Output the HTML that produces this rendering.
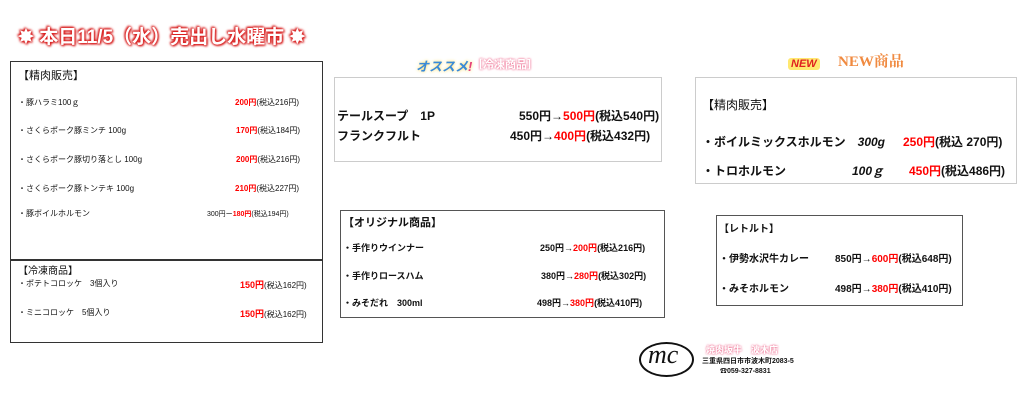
<!DOCTYPE html>
<html><head><meta charset="utf-8"><style>
body{margin:0;width:1024px;height:403px;background:#fff;position:relative;overflow:hidden;font-family:"Liberation Sans","Noto Sans CJK JP",sans-serif;color:#111}
.a{position:absolute;white-space:nowrap}
.box{position:absolute;box-sizing:border-box}
.r{color:#f00}
.b{font-weight:bold}
</style></head><body>
<div class="a b" style="left:18px;top:22px;font-size:19px;color:#fff;text-shadow:0 0 2px #d22,0 0 3px #d22,1px 1px 2px #c00,-1px -1px 2px #c00;letter-spacing:0px">✸ 本日11/5（水）売出し水曜市 ✸</div>

<div class="box" style="left:10px;top:61px;width:313px;height:282px;border:1.5px solid #333"></div>
<div class="box" style="left:10px;top:259px;width:313px;height:1.5px;background:#333"></div>
<div class="a" style="left:18px;top:67px;font-size:11px">【精肉販売】</div>
<div class="a" style="left:18px;top:97px;font-size:8px">・豚ハラミ100ｇ</div>
<div class="a" style="left:235px;top:97px;font-size:8px"><span class="r b">200円</span>(税込216円)</div>
<div class="a" style="left:18px;top:125px;font-size:8px">・さくらポーク豚ミンチ 100g</div>
<div class="a" style="left:236px;top:125px;font-size:8px"><span class="r b">170円</span>(税込184円)</div>
<div class="a" style="left:18px;top:154px;font-size:8px">・さくらポーク豚切り落とし 100g</div>
<div class="a" style="left:236px;top:154px;font-size:8px"><span class="r b">200円</span>(税込216円)</div>
<div class="a" style="left:18px;top:183px;font-size:8px">・さくらポーク豚トンテキ 100g</div>
<div class="a" style="left:235px;top:183px;font-size:8px"><span class="r b">210円</span>(税込227円)</div>
<div class="a" style="left:18px;top:208px;font-size:8px">・豚ボイルホルモン</div>
<div class="a" style="left:207px;top:209px;font-size:7px">300円ー<span class="r b">180円</span>(税込194円)</div>
<div class="a" style="left:18px;top:262px;font-size:10px">【冷凍商品】</div>
<div class="a" style="left:18px;top:278px;font-size:8px">・ポテトコロッケ　3個入り</div>
<div class="a" style="left:240px;top:278px;font-size:8px"><span class="r b" style="font-size:9px">150円</span>(税込162円)</div>
<div class="a" style="left:18px;top:307px;font-size:8px">・ミニコロッケ　5個入り</div>
<div class="a" style="left:240px;top:307px;font-size:8px"><span class="r b" style="font-size:9px">150円</span>(税込162円)</div>

<div class="a b" style="left:416px;top:56px;font-size:13px;color:#3a8ad8;font-style:italic;text-shadow:0 0 3px #ffd84a">オススメ<span style="color:#e5407a">!</span></div>
<div class="a b" style="left:472px;top:56px;font-size:11px;color:#fff;text-shadow:0 0 2px #f07a9a,0 0 2px #f07a9a">［冷凍商品］</div>
<div class="box" style="left:334px;top:77px;width:328px;height:85px;border:1px solid #ccc"></div>
<div class="a b" style="left:337px;top:107px;font-size:12px">テールスープ　1P</div>
<div class="a b" style="left:519px;top:107px;font-size:12px">550円→<span class="r">500円</span>(税込540円)</div>
<div class="a b" style="left:337px;top:127px;font-size:12px">フランクフルト</div>
<div class="a b" style="left:510px;top:127px;font-size:12px">450円→<span class="r">400円</span>(税込432円)</div>

<div class="a b" style="left:788px;top:58px;font-size:11px;color:#e02020;font-style:italic;background:#ffe870;padding:0 3px;border-radius:3px">NEW</div>
<div class="a b" style="left:838px;top:50px;font-size:15px;color:#f08a40;font-family:'Liberation Serif','Noto Serif CJK SC',serif">NEW商品</div>
<div class="box" style="left:695px;top:77px;width:322px;height:107px;border:1px solid #ccc"></div>
<div class="a" style="left:702px;top:96px;font-size:12px">【精肉販売】</div>
<div class="a b" style="left:702px;top:133px;font-size:12px">・ボイルミックスホルモン　<i>300g</i></div>
<div class="a b" style="left:903px;top:133px;font-size:12px"><span class="r">250円</span>(税込 270円)</div>
<div class="a b" style="left:702px;top:162px;font-size:12px">・トロホルモン</div>
<div class="a b" style="left:852px;top:162px;font-size:12px"><i>100ｇ</i></div>
<div class="a b" style="left:909px;top:162px;font-size:12px"><span class="r">450円</span>(税込486円)</div>

<div class="box" style="left:340px;top:210px;width:325px;height:108px;border:1.5px solid #555"></div>
<div class="a b" style="left:343px;top:214px;font-size:11px">【オリジナル商品】</div>
<div class="a b" style="left:343px;top:241px;font-size:9px">・手作りウインナー</div>
<div class="a b" style="left:540px;top:241px;font-size:9px">250円→<span class="r">200円</span>(税込216円)</div>
<div class="a b" style="left:343px;top:269px;font-size:9px">・手作りロースハム</div>
<div class="a b" style="left:541px;top:269px;font-size:9px">380円→<span class="r">280円</span>(税込302円)</div>
<div class="a b" style="left:343px;top:296px;font-size:9px">・みそだれ　300ml</div>
<div class="a b" style="left:537px;top:296px;font-size:9px">498円→<span class="r">380円</span>(税込410円)</div>

<div class="box" style="left:716px;top:215px;width:247px;height:91px;border:1.5px solid #555"></div>
<div class="a b" style="left:719px;top:220px;font-size:10px">【レトルト】</div>
<div class="a b" style="left:719px;top:250px;font-size:10px">・伊勢水沢牛カレー</div>
<div class="a b" style="left:835px;top:250px;font-size:10px">850円→<span class="r">600円</span>(税込648円)</div>
<div class="a b" style="left:719px;top:280px;font-size:10px">・みそホルモン</div>
<div class="a b" style="left:835px;top:280px;font-size:10px">498円→<span class="r">380円</span>(税込410円)</div>

<div class="box" style="left:639px;top:342px;width:55px;height:35px;border:2px solid #111;border-radius:50%"></div>
<div class="a" style="left:648px;top:340px;font-size:26px;font-style:italic;font-family:'Liberation Serif',serif">mc</div>
<div class="a b" style="left:706px;top:343px;font-size:9px;color:#fff;text-shadow:0 0 2px #f07a9a,0 0 2px #f07a9a">焼肉坂牛　波木店</div>
<div class="a b" style="left:702px;top:356px;font-size:7px">三重県四日市市波木町2083-5</div>
<div class="a b" style="left:720px;top:366px;font-size:7px">☎059-327-8831</div>
</body></html>
